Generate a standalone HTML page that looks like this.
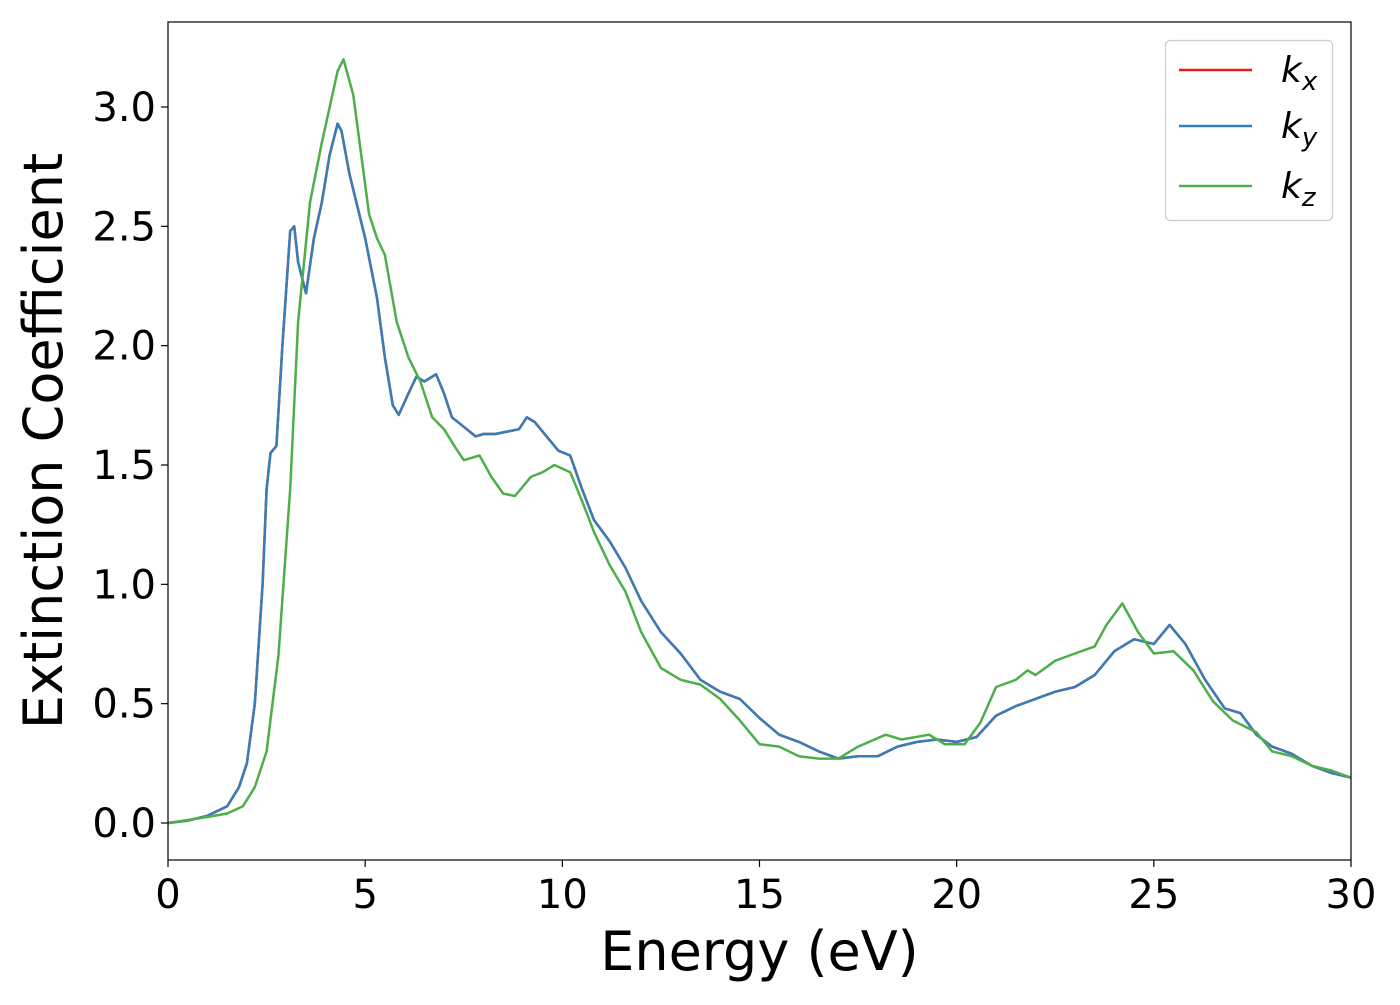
<!DOCTYPE html>
<html><head><meta charset="utf-8"><style>
body{margin:0;background:#fff;}
svg text{font-family:"DejaVu Sans","Liberation Sans",sans-serif;fill:#000;}
</style></head><body>
<svg id="chart" width="1400" height="1000" xmlns="http://www.w3.org/2000/svg">
<g id="plot"></g>
</svg>
<script>
const kxyE=[0,0.5,1,1.5,1.8,2,2.2,2.4,2.5,2.6,2.75,2.9,3.1,3.2,3.3,3.5,3.7,3.9,4.1,4.3,4.4,4.6,5,5.3,5.5,5.7,5.85,6.1,6.3,6.5,6.8,7,7.2,7.5,7.8,8,8.3,8.6,8.9,9.1,9.3,9.6,9.9,10.2,10.5,10.8,11.2,11.6,12,12.5,13,13.5,14,14.5,15,15.5,16,16.5,17,17.5,18,18.5,19,19.5,20,20.5,21,21.5,22,22.5,23,23.5,24,24.5,25,25.4,25.8,26.3,26.8,27.2,27.6,28,28.5,29,29.5,30];
const kxV=[0,0.01,0.03,0.07,0.15,0.25,0.5,1.0,1.4,1.55,1.58,2.0,2.48,2.5,2.35,2.22,2.45,2.6,2.8,2.93,2.9,2.72,2.45,2.2,1.95,1.75,1.71,1.8,1.87,1.85,1.88,1.8,1.7,1.66,1.62,1.63,1.63,1.64,1.65,1.7,1.68,1.62,1.56,1.54,1.4,1.27,1.18,1.07,0.93,0.8,0.71,0.6,0.55,0.52,0.44,0.37,0.34,0.3,0.27,0.28,0.28,0.32,0.34,0.35,0.34,0.36,0.45,0.49,0.52,0.55,0.57,0.62,0.72,0.77,0.75,0.83,0.75,0.6,0.48,0.46,0.37,0.32,0.29,0.24,0.21,0.19];
const kyV=kxV.slice();
const kzE=[0,1,1.5,1.9,2.2,2.5,2.8,3.1,3.3,3.6,3.9,4.1,4.3,4.45,4.7,4.9,5.1,5.3,5.5,5.8,6.1,6.4,6.7,7,7.3,7.5,7.9,8.2,8.5,8.8,9.2,9.5,9.8,10.2,10.5,10.8,11.2,11.6,12,12.5,13,13.5,14,14.5,15,15.5,16,16.5,17,17.5,18.2,18.6,19.3,19.7,20.2,20.6,21,21.5,21.8,22,22.5,23,23.5,23.8,24.2,24.6,25,25.5,26,26.5,27,27.6,28,28.5,29,29.5,30];
const kzV=[0,0.025,0.04,0.07,0.15,0.3,0.7,1.4,2.1,2.6,2.85,3.0,3.15,3.2,3.05,2.8,2.55,2.45,2.38,2.1,1.95,1.85,1.7,1.65,1.57,1.52,1.54,1.45,1.38,1.37,1.45,1.47,1.5,1.47,1.35,1.22,1.08,0.97,0.8,0.65,0.6,0.58,0.52,0.43,0.33,0.32,0.28,0.27,0.27,0.32,0.37,0.35,0.37,0.33,0.33,0.42,0.57,0.6,0.64,0.62,0.68,0.71,0.74,0.83,0.92,0.8,0.71,0.72,0.64,0.51,0.43,0.38,0.3,0.28,0.24,0.22,0.19];
const xTicks=[0,5,10,15,20,25,30];
const yTicks=[0,0.5,1.0,1.5,2.0,2.5,3.0];
const L=168,R=1351,T=22,B=860;
const X=v=>L+(v/30)*(R-L);
const Y=v=>823-v*(823-107)/3;
const NS="http://www.w3.org/2000/svg";
const g=document.getElementById('plot');
function mk(t,a){const e=document.createElementNS(NS,t);for(const k in a)e.setAttribute(k,a[k]);g.appendChild(e);return e;}
function line(E,V,c,name){
  const p=mk('polyline',{points:E.map((e,i)=>X(e).toFixed(1)+','+Y(V[i]).toFixed(1)).join(' '),fill:'none',stroke:c,'stroke-width':2.5,'stroke-linejoin':'round'});
  
  
}
line(kxyE,kxV,'#e41a1c','series-kx');
line(kxyE,kyV,'#377eb8','series-ky');
line(kzE,kzV,'#4daf4a','series-kz');
const fr=mk('rect',{x:L,y:T,width:R-L,height:B-T,fill:'none',stroke:'#000','stroke-width':1.2});


xTicks.forEach(v=>{
  mk('line',{x1:X(v),x2:X(v),y1:B,y2:B+7,stroke:'#000','stroke-width':1.2});
  const t=mk('text',{x:X(v),y:B+48,'text-anchor':'middle','font-size':40});
  t.textContent=v;
  
  
});
yTicks.forEach(v=>{
  mk('line',{x1:L-7,x2:L,y1:Y(v),y2:Y(v),stroke:'#000','stroke-width':1.2});
  const t=mk('text',{x:L-12,y:Y(v)+14,'text-anchor':'end','font-size':40});
  t.textContent=v.toFixed(1);
  
  
});
const xt=mk('text',{x:(L+R)/2,y:970,'text-anchor':'middle','font-size':54});
xt.textContent='Energy (eV)';


const yt=mk('text',{x:0,y:0,'text-anchor':'middle','font-size':54,transform:'translate(62,441) rotate(-90)'});
yt.textContent='Extinction Coefficient';


const lg=mk('rect',{x:1165.5,y:40.5,width:167,height:180,rx:5,fill:'#fff',stroke:'#ccc','stroke-width':1.2});


[['#e41a1c','x',70],['#377eb8','y',126],['#4daf4a','z',186]].forEach(([c,s,yy])=>{
  const l=mk('line',{x1:1179,x2:1252,y1:yy,y2:yy,stroke:c,'stroke-width':2.5});
  
  
  const t=mk('text',{x:1281,y:yy+12,'font-size':36,'font-style':'italic'});
  t.innerHTML='k<tspan font-size="26" dy="8">'+s+'</tspan>';
  
  
});
</script>
</body></html>
